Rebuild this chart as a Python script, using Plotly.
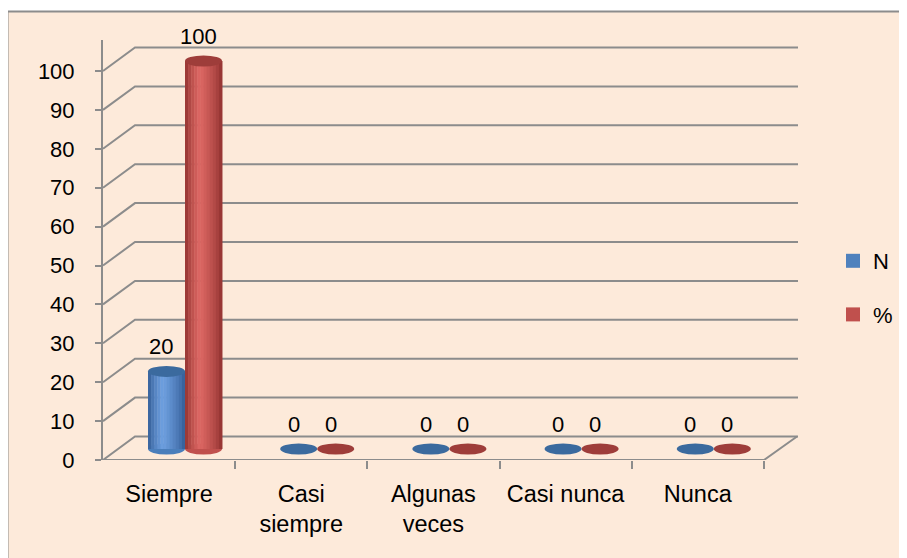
import plotly.graph_objects as go

# ---- data ----
categories = ["Siempre", "Casi siempre", "Algunas veces", "Casi nunca", "Nunca"]
tick_labels = ["Siempre", "Casi<br>siempre", "Algunas<br>veces", "Casi nunca", "Nunca"]
n_values = [20, 0, 0, 0, 0]
pct_values = [100, 0, 0, 0, 0]
y_ticks = [0, 10, 20, 30, 40, 50, 60, 70, 80, 90, 100]

# ---- layout geometry (page pixels; the page body adds an 8px offset) ----
OFF = 8
PAGE_W, PAGE_H = 907, 558
W, H = PAGE_W - OFF, PAGE_H - OFF
L, R = 103, 798          # plot area left/right (page px)
T, B = 40, 460           # plot area top/bottom (page px)
PX_FRONT = 3.89          # px per unit on front axis
PX_BAR = 3.88            # px per unit at bar depth
BAR_BASE = 449           # page pixel of value 0 at bar depth
STEP = 132.2             # category spacing
DEPTH_DX, DEPTH_DY = 32, 23.5

def paper_x(px):
    return (px - L) / (R - L)

def paper_y(py):
    return (B - py) / (B - T)

y2_range = [0, (B - T) / PX_FRONT]
y_range = [-(B - BAR_BASE) / PX_BAR, (BAR_BASE - T) / PX_BAR]
x_range = [(L - 185) / STEP, (R - 185) / STEP]
x2_range = [(L - 169) / STEP, (R - 169) / STEP]

BW = 0.28
series = [
    dict(name="N", vals=n_values, off=-BW, edge=(47, 88, 145), peak=(110, 160, 225),
         mid="#4A7EBB", top="#3B6A9E", legend="#4F81BD"),
    dict(name="%", vals=pct_values, off=0.0, edge=(140, 46, 44), peak=(222, 104, 100),
         mid="#C0504D", top="#9E3D3A", legend="#C0504D"),
]

def mix(c1, c2, t):
    return "rgb(%d,%d,%d)" % tuple(round(a + (b - a) * t) for a, b in zip(c1, c2))

fig = go.Figure()

shapes = []
# outer chart area
shapes.append(dict(type="rect", xref="paper", yref="paper",
                   x0=paper_x(OFF - 0.5), x1=paper_x(PAGE_W + 20),
                   y0=paper_y(PAGE_H + 20), y1=paper_y(11.5),
                   fillcolor="#FDEADA", line=dict(color="#8C8C8C", width=2), layer="below"))

grid_col = "#8C8C8C"
dv = DEPTH_DY / PX_FRONT
for v in y_ticks:
    shapes.append(dict(type="path", xref="paper", yref="y2",
                       path=f"M 0,{v} L {paper_x(L + DEPTH_DX)},{v + dv} L 1,{v + dv}",
                       line=dict(color=grid_col, width=2), layer="below"))
# front floor edge and right slant
shapes.append(dict(type="path", xref="paper", yref="y2",
                   path=f"M 0,0 L {paper_x(764)},0 L {paper_x(764 + 33)},{dv}",
                   line=dict(color=grid_col, width=2), layer="below"))

ell_h = 5.5 / PX_BAR
for s in series:
    for i, v in enumerate(s["vals"]):
        x0 = i + s["off"]
        x1 = x0 + BW
        if v > 0:
            shapes.append(dict(type="circle", xref="x", yref="y", x0=x0, x1=x1,
                               y0=-ell_h, y1=ell_h, fillcolor=s["mid"],
                               line=dict(width=0), layer="below"))
        shapes.append(dict(type="circle", xref="x", yref="y", x0=x0, x1=x1,
                           y0=v - ell_h, y1=v + ell_h, fillcolor=s["top"],
                           line=dict(width=0), layer="above"))

# cylinder bodies: a bar drawn as narrow shaded strips
NSTRIP = 12
PEAK = 0.4
for s in series:
    sw = BW / NSTRIP
    for k in range(NSTRIP):
        c = (k + 0.5) / NSTRIP
        t = 1 - abs(c - PEAK) / (PEAK if c < PEAK else 1 - PEAK)
        t = max(0.0, min(1.0, t)) ** 0.7
        fig.add_trace(go.Bar(x=categories, y=s["vals"], width=sw * 1.15, offset=s["off"] + k * sw,
                             marker=dict(color=mix(s["edge"], s["peak"], t), line=dict(width=0)),
                             name=s["name"], showlegend=False,
                             xaxis="x", yaxis="y", hoverinfo="skip"))
    # legend entry (square swatch)
    fig.add_trace(go.Scatter(x=[None], y=[None], mode="markers", name=s["name"],
                             legendgroup=s["name"],
                             marker=dict(symbol="square", size=14, color=s["legend"]),
                             xaxis="x", yaxis="y", hoverinfo="skip"))

# invisible trace to carry the front category axis
fig.add_trace(go.Scatter(x=categories, y=[0] * len(categories), mode="markers",
                         marker=dict(opacity=0), showlegend=False, hoverinfo="skip",
                         xaxis="x2", yaxis="y2"))

font_family = "Liberation Sans, Arial, sans-serif"
annotations = []
for s in series:
    for i, v in enumerate(s["vals"]):
        annotations.append(dict(x=i + s["off"] + BW / 2, y=v, xref="x", yref="y",
                                text=str(v), showarrow=False, yshift=25, xshift=-5,
                                font=dict(size=22, color="black", family=font_family)))

fig.update_layout(
    width=W, height=H,
    margin=dict(l=L - OFF, r=PAGE_W - R, t=T - OFF, b=PAGE_H - B, pad=0, autoexpand=False),
    paper_bgcolor="white", plot_bgcolor="rgba(0,0,0,0)",
    font=dict(family=font_family, size=22, color="black"),
    barmode="overlay",
    showlegend=True,
    legend=dict(x=paper_x(833), xanchor="left", y=paper_y(288), yanchor="middle",
                bgcolor="rgba(0,0,0,0)", font=dict(size=22, family=font_family),
                traceorder="grouped", tracegroupgap=22, itemsizing="trace"),
    xaxis=dict(visible=False, range=x_range, type="category", categoryarray=categories),
    yaxis=dict(visible=False, range=y_range),
    xaxis2=dict(overlaying="x", anchor="y2", type="category", categoryarray=categories,
                range=x2_range, tickmode="array", tickvals=categories, ticktext=tick_labels,
                tickson="boundaries", ticks="outside", ticklen=8, tickwidth=2, tickcolor=grid_col,
                showline=False, showgrid=False, zeroline=False,
                tickfont=dict(size=23.5, family=font_family), ticklabelstandoff=17),
    yaxis2=dict(overlaying="y", anchor="x", side="left", range=y2_range,
                tickmode="array", tickvals=y_ticks, ticks="outside", ticklen=6, tickwidth=2,
                tickcolor=grid_col, showline=True, linecolor=grid_col, linewidth=2,
                showgrid=False, zeroline=False, tickfont=dict(size=22, family=font_family),
                ticklabelstandoff=16),
    shapes=shapes,
    annotations=annotations,
)

fig.write_html("out.html")
